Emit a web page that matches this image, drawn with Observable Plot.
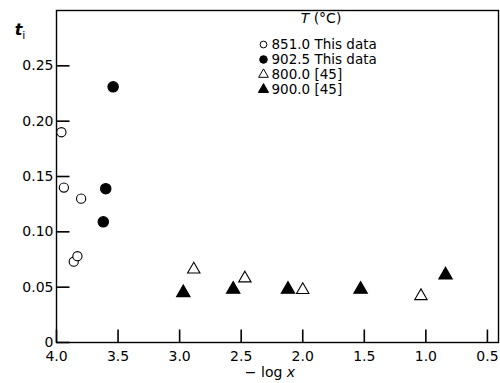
<!DOCTYPE html>
<html><head><meta charset="utf-8">
<script src="https://cdn.jsdelivr.net/npm/d3@7"></script>
<script src="https://cdn.jsdelivr.net/npm/@observablehq/plot@0.6"></script>
<style>
body{margin:0;background:#fff;}
#chart{width:500px;height:383px;}
svg{font-family:"DejaVu Sans",sans-serif;}
</style></head><body><div id="chart"></div>
<script>
// Data: x = -log x, y = t_i
const open851X = [3.96, 3.94, 3.80, 3.86, 3.83];
const open851Y = [0.190, 0.140, 0.130, 0.073, 0.078];
const filled902X = [3.54, 3.60, 3.62];
const filled902Y = [0.231, 0.139, 0.109];
const open800X = [2.885, 2.47, 2.00, 1.04];
const open800Y = [0.066, 0.058, 0.0475, 0.042];
const filled900X = [2.97, 2.565, 2.12, 1.53, 0.84];
const filled900Y = [0.045, 0.048, 0.048, 0.048, 0.061];
const xTicks = [4.0, 3.5, 3.0, 2.5, 2.0, 1.5, 1.0, 0.5];
const xTickLabels = ["4.0", "3.5", "3.0", "2.5", "2.0", "1.5", "1.0", "0.5"];
const yTicks = [0, 0.05, 0.10, 0.15, 0.20, 0.25];
const yTickLabels = ["0", "0.05", "0.10", "0.15", "0.20", "0.25"];
const legendTemps = ["851.0", "902.5", "800.0", "900.0"];
const legendSources = ["This data", "This data", "[45]", "[45]"];

const W = 500, H = 383, mL = 56, mR = 2, mT = 10, mB = 41;
const xDomain = [4.0, 0.41], yDomain = [0, 0.30];
const tickPx = 13, tickW = 1.6;

const pts = (xs, ys) => xs.map((x, i) => ({x, y: ys[i]}));
const series = [
  {data: pts(open851X, open851Y), symbol: "circle", filled: false, r: 4.6},
  {data: pts(filled902X, filled902Y), symbol: "circle", filled: true, r: 5.2},
  {data: pts(open800X, open800Y), symbol: "triangle", filled: false, r: 4.6},
  {data: pts(filled900X, filled900Y), symbol: "triangle", filled: true, r: 5.0}
];
const legendSymbols = [
  {symbol: "circle", filled: false, r: 3.4},
  {symbol: "circle", filled: true, r: 3.8},
  {symbol: "triangle", filled: false, r: 3.6},
  {symbol: "triangle", filled: true, r: 3.8}
];

// inward tick marks as thin filled bars (symbols placed by the plot's scales)
const tickUp = {draw(ctx) { ctx.moveTo(-tickW / 2, 0); ctx.lineTo(tickW / 2, 0); ctx.lineTo(tickW / 2, -tickPx); ctx.lineTo(-tickW / 2, -tickPx); ctx.closePath(); }};
const tickRight = {draw(ctx) { ctx.moveTo(0, -tickW / 2); ctx.lineTo(tickPx, -tickW / 2); ctx.lineTo(tickPx, tickW / 2); ctx.lineTo(0, tickW / 2); ctx.closePath(); }};

const marks = [
  Plot.frame({stroke: "black", strokeWidth: 1.4}),
  Plot.dot(xTicks, {x: d => d, frameAnchor: "bottom", symbol: tickUp, r: 3, fill: "black", stroke: "none"}),
  Plot.dot(yTicks, {y: d => d, frameAnchor: "left", symbol: tickRight, r: 3, fill: "black", stroke: "none"}),
  Plot.axisX(xTicks, {tickSize: 0, tickPadding: 9, tickFormat: (d, i) => xTickLabels[i], fontSize: 14, label: null}),
  Plot.axisY(yTicks, {tickSize: 0, tickPadding: 3, tickFormat: (d, i) => yTickLabels[i], fontSize: 14, label: null}),
  ...series.map(s => Plot.dot(s.data, {x: "x", y: "y", symbol: s.symbol, r: s.r,
    fill: s.filled ? "black" : "white", stroke: "black", strokeWidth: 1.1}))
];
legendSymbols.forEach((s, i) => {
  marks.push(Plot.dot([0], {frameAnchor: "top-left", dx: 207, dy: 34 + i * 15,
    symbol: s.symbol, r: s.r, fill: s.filled ? "black" : "white", stroke: "black", strokeWidth: 1}));
  marks.push(Plot.text([legendTemps[i] + " " + legendSources[i]], {frameAnchor: "top-left", dx: 215, dy: 34 + i * 15,
    text: d => d, textAnchor: "start", lineAnchor: "middle", fontSize: 13.5}));
});

const chart = Plot.plot({
  width: W, height: H,
  marginLeft: mL, marginRight: mR, marginTop: mT, marginBottom: mB,
  style: {fontFamily: "DejaVu Sans", fontSize: "14px", color: "black", background: "white"},
  x: {domain: xDomain, axis: null},
  y: {domain: yDomain, axis: null},
  marks
});
document.getElementById("chart").appendChild(chart);

const svg = d3.select(chart);
// y-axis title t_i
const ty = svg.append("text").attr("x", 20).attr("y", 35).attr("font-size", 16).attr("fill", "black");
ty.append("tspan").attr("font-style", "italic").attr("font-weight", "bold").text("t");
ty.append("tspan").attr("font-size", 11).attr("dy", 4).text("i");
// x-axis title − log x
const tx = svg.append("text").attr("x", 270).attr("y", 377).attr("text-anchor", "middle").attr("font-size", 14).attr("fill", "black");
tx.append("tspan").text("− log ");
tx.append("tspan").attr("font-style", "italic").text("x");
// legend title T (°C)
const tl = svg.append("text").attr("x", 321).attr("y", 23).attr("text-anchor", "middle").attr("font-size", 14).attr("fill", "black");
tl.append("tspan").attr("font-style", "italic").text("T");
tl.append("tspan").text(" (°C)");
</script></body></html>
